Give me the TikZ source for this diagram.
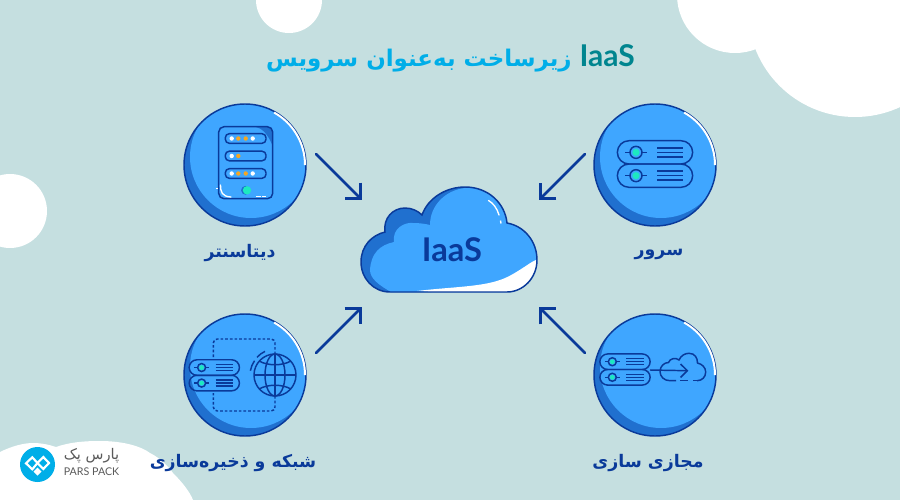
\documentclass[tikz,border=0pt]{standalone}
\usepackage{fontspec}
\usetikzlibrary{arrows.meta}
\TeXXeTstate=1
\newfontfamily\farsifont[Script=Arabic]{DejaVu Sans}
\newfontfamily\latinfont{Lato}

\definecolor{pagebg}{HTML}{C5DFE0}
\definecolor{navyline}{HTML}{0A3A9A}
\definecolor{skyfill}{HTML}{3FA6FF}
\definecolor{deepfill}{HTML}{2070CF}
\definecolor{mintdot}{HTML}{1DE9C0}
\definecolor{amberdot}{HTML}{F5A623}
\definecolor{titlecyan}{HTML}{00AEE8}
\definecolor{titleteal}{HTML}{00858F}
\definecolor{logogray}{HTML}{5A5A5A}

\tikzset{every picture/.style={line width=0.75pt}}
\tikzset{
	iconline/.style={draw=navyline,line width=1.1pt},
	flowarrow/.style={draw=navyline,line width=2pt,line cap=round,-{Straight Barb[length=8.5pt,width=17pt,line width=2pt]}},
	itemlabel/.style={text=navyline,font=\farsifont\bfseries\fontsize{13pt}{16pt}\selectfont},
	badge/.pic={
		\begin{scope}
			\clip (0,0) circle (61);
			\fill[deepfill] (0,0) circle (61);
			\fill[skyfill] (6,8) circle (61);
		\end{scope}
		\draw[navyline,line width=1.1pt] (0,0) circle (61);
		\draw[white,line width=1.5pt] (60,0) arc[start angle=0,end angle=61,radius=60];
	},
	serverstack/.pic={
		\draw[iconline] (-26,-23.3) -- (26,-23.3) arc[start angle=-90,end angle=90,radius=11.65] -- (-26,0) arc[start angle=90,end angle=270,radius=11.65] -- cycle;
		\draw[iconline] (-26,0) -- (26,0) arc[start angle=-90,end angle=90,radius=11.65] -- (-26,23.3) arc[start angle=90,end angle=270,radius=11.65] -- cycle;
		\foreach \rowy in {-11.65,11.65} {
			\draw[iconline] (-30,\rowy) -- (-8,\rowy);
			\filldraw[iconline,fill=skyfill] (-19,\rowy) circle (6);
			\fill[mintdot] (-19,\rowy) circle (3.6);
			\draw[iconline] (2,\rowy-4.5) -- (28,\rowy-4.5) (2,\rowy) -- (28,\rowy) (2,\rowy+4.5) -- (28,\rowy+4.5);
		}
	}
}

\begin{document}
\begin{tikzpicture}[x=0.75pt,y=0.75pt,yscale=-1,xscale=1]
	\useasboundingbox (0,0) rectangle (900,500);
	\clip (0,0) rectangle (900,500);
	\fill[pagebg] (0,0) rectangle (900,500);

	%Shape: White blobs
	\fill[white] (855,10) circle (107);
	\fill[white] (735,-5) circle (58);
	\fill[white] (289,0) circle (33);
	\fill[white] (10,211) circle (37);
	\fill[white] (0,452) .. controls (12,446) and (24,443) .. (33,443) .. controls (42,443) and (50,445) .. (56,447) .. controls (70,442) and (85,441) .. (100,441) .. controls (125,441) and (142,447) .. (150,453) .. controls (160,458) and (168,466) .. (173,473) .. controls (182,482) and (190,492) .. (193,500) -- (0,500) -- cycle;

	%Shape: Logo
	\fill[titlecyan] (37.5,464.5) circle (17.5);
	\draw[white,line width=1.6pt] (32.3,457.3) -- (26,463.3) -- (32.3,469.3) -- (37.5,463) -- cycle;
	\draw[white,line width=1.6pt] (43.3,457) -- (37.5,463) -- (43.3,469) -- (49,463) -- cycle;
	\fill[white] (37.5,467.5) -- (41.5,471.5) -- (37.5,475.5) -- (33.5,471.5) -- cycle;

	% Text Node
	\node[text=titlecyan,font=\farsifont\bfseries\fontsize{17.2pt}{22pt}\selectfont] (titletext) at (450.5,58) {\beginR زیرساخت به‌عنوان سرویس\endR\ {\color{titleteal}\latinfont\bfseries\fontsize{22.5pt}{22pt}\selectfont IaaS}};
	% Text Node
	\node[text=logogray,font=\farsifont\fontsize{11pt}{12pt}\selectfont] (logofa) at (91.5,456) {\beginR پارس پک\endR};
	% Text Node
	\node[text=logogray,font=\latinfont\fontsize{8pt}{9pt}\selectfont] (logoen) at (91.5,471.5) {PARS PACK};

	%Shape: Badges
	\pic at (245,165) {badge};
	\pic at (655,165) {badge};
	\pic at (245,375) {badge};
	\pic at (655,375) {badge};

	%Shape: Data center rack
	\begin{scope}
		\clip[rounded corners=4pt] (218.7,126.7) rectangle (272.7,198.7);
		\fill[deepfill] (255,126.7) .. controls (262,128) and (268,134) .. (272.7,146) -- (272.7,126.7) -- cycle;
	\end{scope}
	\draw[iconline,rounded corners=4pt] (218.7,126.7) rectangle (272.7,198.7);
	\draw[white,line width=1pt,line cap=round] (220.5,185) .. controls (220.5,192) and (222,196.5) .. (231,197);
	\fill[white] (216,187.5) rectangle (218,188.5);
	\foreach \sloty/\slotdots in {138.5/{231.7/white,238.3/amberdot,245.7/amberdot,252.7/white},156/{231.7/white,238.3/amberdot},173.5/{231.7/white,238.3/amberdot,245.7/amberdot,252.7/white}} {
		\draw[iconline,rounded corners=3pt] (225.3,\sloty-4.8) rectangle (266,\sloty+4.8);
		\foreach \dotx/\dotcolor in \slotdots {
			\fill[\dotcolor] (\dotx,\sloty) circle (2.2);
		}
	}
	\fill[deepfill] (245.5,190.3) circle (4.4);
	\fill[mintdot] (247,190.3) circle (4.2);
	\fill[white] (256,195.5) rectangle (261,197);
	\fill[white] (262,195.5) rectangle (266,197);

	%Shape: Server icon
	\pic at (655,164) {serverstack};

	%Shape: Network icon
	\draw[iconline,dash pattern=on 2pt off 1.5pt,rounded corners=3pt] (213.3,357) -- (213.3,339) -- (275,339) -- (275,354);
	\draw[iconline,dash pattern=on 2pt off 1.5pt,rounded corners=3pt] (275,396) -- (275,411) -- (213.3,411) -- (213.3,393);
	\pic[scale=0.667] at (214.3,375.3) {serverstack};
	\draw[iconline] (275,375) circle (21);
	\draw[iconline] (275,375) ellipse [x radius=10,y radius=21];
	\draw[iconline] (275,354) -- (275,396) (254,375) -- (296,375);
	\draw[iconline] (259,361) .. controls (268,366) and (282,366) .. (291,361);
	\draw[iconline] (259,389) .. controls (268,384) and (282,384) .. (291,389);
	\draw[iconline] (250.4,370.7) arc[start angle=190,end angle=215,radius=25];
	\draw[iconline] (257,357.3) arc[start angle=222,end angle=245,radius=25];

	%Shape: Virtualization icon
	\draw[iconline] (697,380.7) .. controls (702,380.7) and (705.7,377) .. (705.7,372) .. controls (705.7,367.5) and (702,364) .. (697.5,363) .. controls (697.5,358) and (695,353.3) .. (689,353.3) .. controls (685,353.3) and (681,355.5) .. (679,360) .. controls (676,357.5) and (670,358) .. (668.5,362.5) .. controls (664,362.5) and (660,366.5) .. (660,371.5) .. controls (660,376.5) and (664,380.7) .. (670,380.7) -- (676,380.7);
	\draw[iconline] (680,380.7) -- (688,380.7);
	\draw[iconline] (693,380.7) -- (697,380.7);
	\pic[scale=0.667] at (625,369.5) {serverstack};
	\draw[iconline] (650,370) -- (687.3,370.7);
	\draw[iconline] (680.5,364) -- (687.3,370.7) -- (680.5,377.5);

	%Shape: Cloud
	\begin{scope}
		\clip (390,292) .. controls (373,292) and (361,278) .. (361,262) .. controls (361,246) and (372,235) .. (385,232) .. controls (383,218) and (393,208) .. (405,208) .. controls (412,208) and (418,211) .. (422,215) .. controls (428,198) and (446,187) .. (465,187) .. controls (488,187) and (505,203) .. (507,223) .. controls (524,226) and (537,241) .. (537,260) .. controls (537,278) and (523,292) .. (507,292) -- cycle;
		\fill[deepfill] (350,180) rectangle (550,300);
		\fill[skyfill] (393,293) .. controls (378,285) and (370,278) .. (370,270) .. controls (371,253) and (380,245) .. (394,242) .. controls (392,228) and (405,222) .. (413,223) .. controls (420,223) and (426,224) .. (430,225) .. controls (430,205) and (446,190) .. (465,188) -- (550,180) -- (550,300) -- cycle;
		\fill[white] (417,291) .. controls (450,287) and (480,287) .. (500,280) .. controls (515,275) and (530,262) .. (536,260) -- (550,300) -- cycle;
	\end{scope}
	\draw[navyline,line width=1.1pt] (390,292) .. controls (373,292) and (361,278) .. (361,262) .. controls (361,246) and (372,235) .. (385,232) .. controls (383,218) and (393,208) .. (405,208) .. controls (412,208) and (418,211) .. (422,215) .. controls (428,198) and (446,187) .. (465,187) .. controls (488,187) and (505,203) .. (507,223) .. controls (524,226) and (537,241) .. (537,260) .. controls (537,278) and (523,292) .. (507,292) -- cycle;
	\draw[white,line width=1pt,line cap=round] (488.5,200.5) .. controls (493,203) and (497,208) .. (499,215);
	\draw[white,line width=1pt] (500.5,220.5) -- (501,223.5);

	% Text Node
	\node[text=navyline,font=\latinfont\bfseries\fontsize{24.5pt}{28pt}\selectfont] (cloudtext) at (452,250) {IaaS};
	% Text Node
	\node[itemlabel] (dclabel) at (240,253) {\beginR دیتاسنتر\endR};
	% Text Node
	\node[itemlabel] (serverlabel) at (659,254) {\beginR سرور\endR};
	% Text Node
	\node[itemlabel] (networklabel) at (233,463) {\beginR شبکه و ذخیره‌سازی\endR};
	% Text Node
	\node[itemlabel] (virtuallabel) at (648,463) {\beginR مجازی سازی\endR};

	%Shape: Arrows
	\coordinate (dcstart) at (316,154);
	\coordinate (dctip) at (362,200);
	\coordinate (serverstart) at (585,154);
	\coordinate (servertip) at (539,200);
	\coordinate (networkstart) at (316,353);
	\coordinate (networktip) at (362,307);
	\coordinate (virtualstart) at (585,353);
	\coordinate (virtualtip) at (539,307);
	\draw[flowarrow] (dcstart) -- (dctip);
	\draw[flowarrow] (serverstart) -- (servertip);
	\draw[flowarrow] (networkstart) -- (networktip);
	\draw[flowarrow] (virtualstart) -- (virtualtip);
\end{tikzpicture}
\end{document}
